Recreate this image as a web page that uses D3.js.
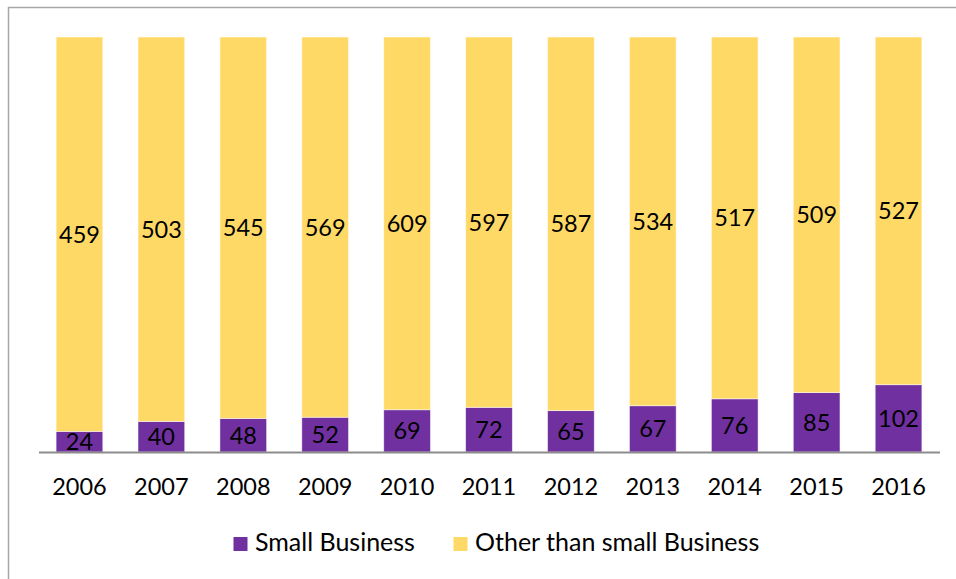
<!DOCTYPE html>
<html>
<head>
<meta charset="utf-8">
<script src="https://cdn.jsdelivr.net/npm/d3@7"></script>
<style>
  html, body { margin: 0; padding: 0; background: #fff; }
  svg { display: block; font-family: Lato, "Open Sans", sans-serif; }
</style>
</head>
<body>
<svg id="chart" width="956" height="579"></svg>
<script>
// Contract awards by year: small business vs. others (shown as share of total)
const years = ["2006","2007","2008","2009","2010","2011","2012","2013","2014","2015","2016"];
const smallBusiness = [24, 40, 48, 52, 69, 72, 65, 67, 76, 85, 102];
const otherBusiness = [459, 503, 545, 569, 609, 597, 587, 534, 517, 509, 527];
const seriesNames = ["Small Business", "Other than small Business"];
const seriesColors = ["#7030A0", "#FFD966"];

const svg = d3.select("#chart");

// outer frame
svg.append("rect")
  .attr("x", 8.5).attr("y", 7.5)
  .attr("width", 960).attr("height", 600)
  .attr("fill", "none").attr("stroke", "#a6a6a6").attr("stroke-width", 1.5);

const rows = years.map((y, i) => ({ year: y, small: smallBusiness[i], other: otherBusiness[i] }));

const x = d3.scaleBand().domain(years).range([38.5, 939.5]).paddingInner(0.43).paddingOuter(0.215);
const yScale = d3.scaleLinear().domain([0, 1]).range([452, 37]);

const stack = d3.stack().keys(["small", "other"]).offset(d3.stackOffsetExpand);
const layers = stack(rows);

const g = svg.append("g");
layers.forEach((layer, li) => {
  const lg = g.append("g");
  lg.selectAll("rect").data(layer).join("rect")
    .attr("x", d => x(d.data.year))
    .attr("width", x.bandwidth())
    .attr("y", d => yScale(d[1]))
    .attr("height", d => yScale(d[0]) - yScale(d[1]))
    .attr("fill", seriesColors[li])
    .attr("stroke", "rgba(255,255,255,0.6)")
    .attr("stroke-width", 0.8);
  lg.selectAll("text").data(layer).join("text")
    .attr("x", d => x(d.data.year) + x.bandwidth() / 2)
    .attr("y", d => (yScale(d[0]) + yScale(d[1])) / 2)
    .attr("dy", "0.36em")
    .attr("text-anchor", "middle")
    .attr("font-size", 23.5)
    .attr("fill", "#000")
    .text(d => d.data[layer.key]);
});

// x axis
const xAxis = d3.axisBottom(x).tickSize(0);
const ax = svg.append("g").attr("transform", "translate(0,452)").call(xAxis);
ax.select(".domain").attr("stroke", "#8c8c8c").attr("stroke-width", 2);
ax.selectAll("text")
  .attr("y", 43).attr("dy", 0)
  .attr("font-size", 23.5).attr("fill", "#000")
  .attr("font-family", "Lato, sans-serif");

// legend
const legendItems = [
  { name: seriesNames[0], color: seriesColors[0], sx: 233.5, tx: 255 },
  { name: seriesNames[1], color: seriesColors[1], sx: 453.5, tx: 475 }
];
const leg = svg.append("g");
legendItems.forEach(it => {
  leg.append("rect").attr("x", it.sx).attr("y", 537).attr("width", 14).attr("height", 14).attr("fill", it.color);
  leg.append("text").attr("x", it.tx).attr("y", 551)
    .attr("font-size", 25).attr("fill", "#000").text(it.name);
});
</script>
</body>
</html>
